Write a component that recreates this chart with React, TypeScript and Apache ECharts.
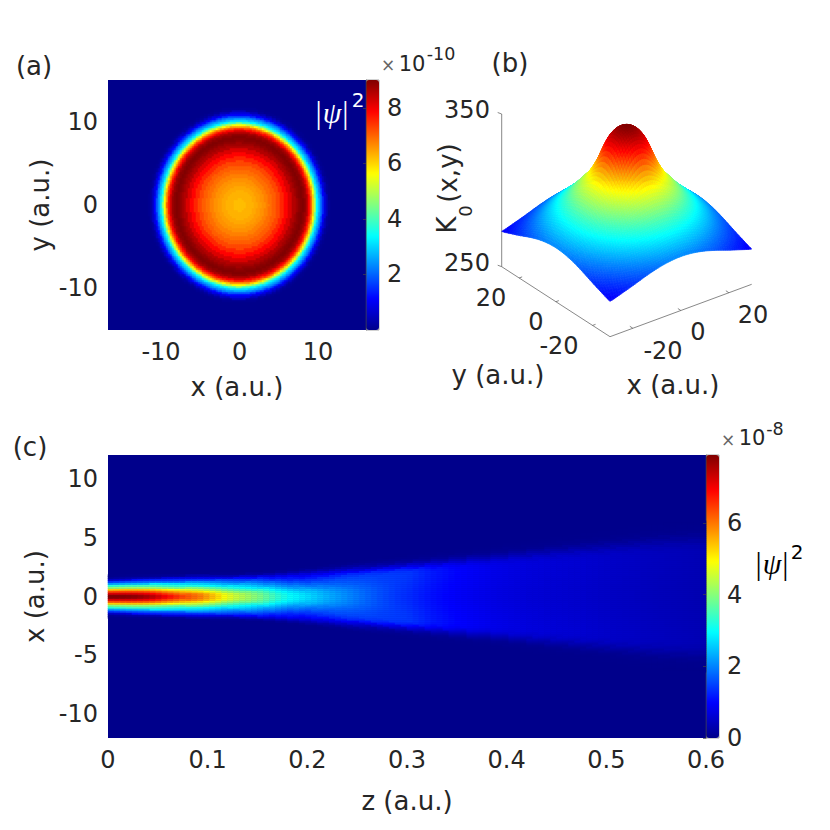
import React, { useEffect, useRef } from "react";
import * as echarts from "echarts";

// ---- tick labels
const panelAXTicks = [-10, 0, 10];
const panelAYTicks = [-10, 0, 10];
const panelABarTicks = [2, 4, 6, 8];
const panelCXTicks = [0, 0.1, 0.2, 0.3, 0.4, 0.5, 0.6];
const panelCYTicks = [-10, -5, 0, 5, 10];
const panelCBarTicks = [0, 2, 4, 6];
const surfaceXTicks = [-20, 0, 20];
const surfaceYTicks = [-20, 0, 20];
const surfaceZTicks = [250, 350];

// ---- panel (a): |psi|^2 (x 1e-10) read along a radius
const ringRadius = [0, 0.5, 1, 1.5, 2, 2.5, 3, 3.5, 4, 4.5, 5, 5.5, 6, 6.5, 7, 7.25, 7.5, 7.75, 8, 8.25, 8.5, 8.6, 8.75, 8.9, 9, 9.1, 9.2, 9.3, 9.4, 9.5, 9.6, 9.7, 9.8, 9.9, 10, 10.1, 10.2, 10.3, 10.4, 10.5, 10.6, 10.75, 10.9, 11.1, 11.3, 11.5];
const ringValue = [6.2, 6.2, 6.3, 6.3, 6.4, 6.5, 6.6, 6.75, 6.9, 7.05, 7.25, 7.55, 7.85, 8.2, 8.55, 8.7, 8.85, 8.95, 9, 8.9, 8.75, 8.6, 8.25, 7.9, 7.6, 7.3, 6.95, 6.5, 6.05, 5.6, 5.05, 4.5, 3.9, 3.35, 3.1, 2.85, 2.6, 2.4, 2.2, 1.85, 1.5, 1.1, 0.8, 0.45, 0.15, 0.05];

// ---- panel (b): K0 read along a radius, one value each 0.5 a.u.
const surfaceK = [348, 347.95, 347.8, 347.45, 347, 346.55, 346, 345.35, 344.6, 343.7, 342.6, 341.35, 340, 338.4, 336.6, 334.65, 332.6, 330.4, 328.2, 326, 324, 322.15, 320.4, 318.75, 317.2, 315.75, 314.4, 313.15, 312, 311, 310, 309, 308, 307, 306, 305, 304, 303, 302, 301, 300, 299.2, 298.4, 297.6, 296.8, 296, 295.2, 294.4, 293.6, 292.8, 292, 291.25, 290.5, 289.75, 289, 288.25, 287.5, 286.75, 286, 285.3, 284.6, 283.95, 283.3, 282.65, 282, 281.4, 280.8, 280.2, 279.6, 279.05, 278.5, 278, 277.5, 277.05, 276.6, 276.2, 275.8, 275.4, 275, 274.6, 274.2, 273.85, 273.5, 273.25, 273];

// ---- panel (c): on-axis |psi|^2 (x 1e-8) and beam half width, one value per z column
const beamPeak = [
  7.9, 7.9, 7.88, 7.85, 7.8, 7.72, 7.6, 7.45, 7.25, 7.0,
  6.8, 6.6, 6.4, 6.25, 6.1, 5.95, 5.7, 5.45, 5.2, 4.9,
  4.7, 4.5, 4.35, 4.2, 4.05, 3.9, 3.7, 3.5, 3.3, 3.15,
  3.0, 2.9, 2.8, 2.7, 2.6, 2.5, 2.4, 2.32, 2.24, 2.16,
  2.08, 2.0, 1.92, 1.84, 1.76, 1.68, 1.62, 1.56, 1.5, 1.45,
  1.4, 1.34, 1.28, 1.22, 1.16, 1.12, 1.08, 1.04, 1.0, 0.97,
  0.94, 0.91, 0.88, 0.85, 0.82, 0.8, 0.78, 0.76, 0.74, 0.72,
  0.7, 0.69, 0.68, 0.66, 0.65, 0.64, 0.63, 0.62, 0.61, 0.6,
  0.58, 0.57, 0.55, 0.54, 0.52, 0.51, 0.5, 0.49, 0.48, 0.46,
  0.45, 0.44, 0.43, 0.42, 0.41, 0.4, 0.39, 0.38, 0.37, 0.36,
];
const beamHalfWidth = [
  1.4, 1.4, 1.4, 1.4, 1.41, 1.41, 1.41, 1.42, 1.42, 1.43,
  1.43, 1.44, 1.44, 1.45, 1.45, 1.46, 1.46, 1.47, 1.48, 1.48,
  1.49, 1.5, 1.52, 1.54, 1.56, 1.58, 1.61, 1.64, 1.67, 1.7,
  1.74, 1.78, 1.82, 1.87, 1.92, 1.97, 2.02, 2.07, 2.13, 2.18,
  2.23, 2.28, 2.33, 2.38, 2.43, 2.48, 2.53, 2.58, 2.63, 2.68,
  2.73, 2.78, 2.83, 2.88, 2.93, 2.98, 3.03, 3.08, 3.13, 3.18,
  3.23, 3.28, 3.33, 3.38, 3.43, 3.48, 3.53, 3.58, 3.63, 3.68,
  3.73, 3.78, 3.83, 3.88, 3.93, 3.98, 4.03, 4.08, 4.13, 4.18,
  4.23, 4.28, 4.33, 4.38, 4.43, 4.48, 4.53, 4.58, 4.63, 4.68,
  4.73, 4.77, 4.81, 4.85, 4.88, 4.91, 4.94, 4.96, 4.98, 5.0,
];
// cross-section relative to the on-axis value, one value each 0.05 half widths
const crossNear = [1, 0.995, 0.98, 0.95, 0.91, 0.86, 0.8, 0.74, 0.67, 0.61, 0.55, 0.5, 0.46, 0.41, 0.37, 0.32, 0.27, 0.22, 0.17, 0.13, 0.1, 0.06, 0.03, 0.01, 0, 0, 0, 0];
const crossMid = [1, 1, 0.99, 0.98, 0.96, 0.93, 0.9, 0.85, 0.8, 0.75, 0.7, 0.66, 0.62, 0.58, 0.54, 0.5, 0.46, 0.42, 0.38, 0.34, 0.3, 0.24, 0.18, 0.12, 0.07, 0.03, 0.01, 0];
const crossFar = [0.93, 0.93, 0.93, 0.94, 0.94, 0.95, 0.96, 0.96, 0.97, 0.98, 0.98, 0.99, 0.99, 1, 1, 0.99, 0.96, 0.88, 0.75, 0.55, 0.38, 0.22, 0.1, 0.05, 0.02, 0.01, 0, 0];

const JET = ["#00008b", "#0000ff", "#0080ff", "#00ffff", "#80ff80", "#ffff00", "#ff8000", "#ff0000", "#800000"];
const INK = "#262626";
const FONT = "DejaVu Sans";
const TICK = 24;
const NAME = 26;

// ---- panel (a) frame
const A = { left: 108, top: 80, w: 258, h: 250, xMin: -16.75, xMax: 16.1, yMin: -15, yMax: 15, cols: 129, rows: 125, barMax: 9, ringAspect: 1.01 };
// ---- panel (c) frame
const C = { left: 108, top: 455, w: 598, h: 283, zMin: 0, zMax: 0.6, yMin: -12, yMax: 12, cols: 100, rows: 142, barMax: 7.9 };
// ---- panel (b) oblique projection, from its three drawn axes
const P = {
  lim: 29.5,
  cells: 80,
  left: [501.7, 266.7],
  front: [610, 336.7],
  right: [751.7, 284.3],
  zTop: 114,
  kMin: 250,
  kMax: 350,
};
const cellStep = (2 * P.lim) / P.cells;

function nearestRing(r: number) {
  let best = 0;
  for (let i = 1; i < ringRadius.length; i++) {
    if (Math.abs(ringRadius[i] - r) < Math.abs(ringRadius[best] - r)) best = i;
  }
  return ringValue[best];
}

function floorPoint(x: number, y: number) {
  const u = (x + P.lim) / (2 * P.lim);
  const v = (y + P.lim) / (2 * P.lim);
  return [
    P.front[0] + u * (P.right[0] - P.front[0]) + v * (P.left[0] - P.front[0]),
    P.front[1] + u * (P.right[1] - P.front[1]) + v * (P.left[1] - P.front[1]),
  ];
}
function kAt(x: number, y: number) {
  const r = Math.sqrt(x * x + y * y) * 2;
  const i = Math.min(surfaceK.length - 2, Math.floor(r));
  const f = Math.min(1, r - i);
  return surfaceK[i] * (1 - f) + surfaceK[i + 1] * f;
}
const zScale = (P.left[1] - P.zTop) / (P.kMax - P.kMin);
function project(x: number, y: number, k: number) {
  const f = floorPoint(x, y);
  return [f[0], f[1] - (k - P.kMin) * zScale];
}

function buildA() {
  const out: number[][] = [];
  for (let i = 0; i < A.cols; i++) {
    const x = A.xMin + ((i + 0.5) / A.cols) * (A.xMax - A.xMin);
    for (let j = 0; j < A.rows; j++) {
      const y = (A.yMin + ((j + 0.5) / A.rows) * (A.yMax - A.yMin)) / A.ringAspect;
      const r = Math.sqrt(x * x + y * y);
      if (r < 11.6) out.push([i, j, nearestRing(r)]);
    }
  }
  return out;
}
const clamp01 = (v: number) => Math.max(0, Math.min(1, v));
function buildC() {
  const out: number[][] = [];
  for (let i = 0; i < C.cols; i++) {
    const z = ((i + 0.5) / C.cols) * C.zMax;
    const w1 = clamp01(z / 0.14);
    const w2 = clamp01((z - 0.2) / 0.1);
    for (let j = 0; j < C.rows; j++) {
      const x = C.yMin + ((j + 0.5) / C.rows) * (C.yMax - C.yMin);
      const idx = Math.round(Math.abs(x) / beamHalfWidth[i] / 0.05);
      if (idx >= crossNear.length) continue;
      const s = crossNear[idx] * (1 - w1) + crossMid[idx] * w1;
      const rel = s * (1 - w2) + crossFar[idx] * w2;
      if (rel > 0) out.push([i, j, beamPeak[i] * rel]);
    }
  }
  return out;
}
function buildSurface() {
  const out: number[][] = [];
  for (let a = 0; a < P.cells; a++) {
    for (let b = 0; b < P.cells; b++) {
      const x = -P.lim + a * cellStep;
      const y = -P.lim + b * cellStep;
      out.push([x, y, kAt(x + cellStep / 2, y + cellStep / 2)]);
    }
  }
  out.sort((a, b) => floorPoint(a[0], a[1])[1] - floorPoint(b[0], b[1])[1]);
  return out;
}

const range = (n: number) => Array.from({ length: n }, (_, i) => i);

function t(text: string, x: number, y: number, size: number, extra: any = {}, el: any = {}) {
  return {
    type: "text",
    x,
    y,
    silent: true,
    ...el,
    style: { text, fontFamily: FONT, fontSize: size, fill: INK, align: "center", verticalAlign: "middle", ...extra },
  };
}
const line = (a: number[], b: number[], w = 0.7) => ({
  type: "line",
  silent: true,
  shape: { x1: a[0], y1: a[1], x2: b[0], y2: b[1] },
  style: { stroke: "#555", lineWidth: w },
});

function surfaceDecor() {
  const g: any[] = [];
  g.push(line(P.left, P.front), line(P.front, P.right), line(P.left, [P.left[0], P.zTop]));
  g.push(line([P.left[0], P.zTop], [P.left[0] - 4, P.zTop - 1.5]), line(P.left, [P.left[0] - 4, P.left[1] - 1.5]));
  surfaceXTicks.forEach((v) => {
    const p = floorPoint(v, -P.lim);
    g.push(line(p, [p[0] - 3, p[1] - 2]));
  });
  surfaceYTicks.forEach((v) => {
    const p = floorPoint(-P.lim, v);
    g.push(line(p, [p[0] + 3, p[1] - 1.1]));
  });
  const xl = [[663, 351], [698, 332], [753, 315]];
  surfaceXTicks.forEach((v, i) => g.push(t(String(v), xl[i][0], xl[i][1], TICK)));
  const yl = [[559, 346], [536, 322], [491, 298]];
  surfaceYTicks.forEach((v, i) => g.push(t(String(v), yl[i][0], yl[i][1], TICK)));
  const zl = [[467, 263], [467, 110]];
  surfaceZTicks.forEach((v, i) => g.push(t(String(v), zl[i][0], zl[i][1], TICK)));
  g.push(t("y (a.u.)", 498, 375, NAME), t("x (a.u.)", 673, 385, NAME));
  return g;
}

function psiLabel(x: number, y: number, color: string) {
  const serif = "Liberation Serif";
  return t("{b||}{p|ψ}{b||}", x, y, 29, {
    fill: color,
    rich: {
      b: { fontFamily: serif, fontSize: 31, fill: color },
      p: { fontFamily: serif, fontSize: 30, fontStyle: "italic", fill: color, padding: [0, 1, 0, 1] },
    },
  });
}

function overlayText() {
  const rot = Math.PI / 2;
  return [
    t("(a)", 34, 66, NAME),
    t("(b)", 510, 63, NAME),
    t("(c)", 30, 447, NAME),
    t("K", 447, 225, NAME, {}, { rotation: rot }),
    t("0", 465, 211, 18, {}, { rotation: rot }),
    t("(x,y)", 448, 173, NAME, {}, { rotation: rot }),
    t("×", 388, 65, 17, { fill: "#666" }),
    t("10", 412, 64, 21),
    t("-10", 441, 54, 17.5),
    t("×", 728, 440, 17, { fill: "#666" }),
    t("10", 752, 438, 21),
    t("-8", 775, 429, 17.5),
    psiLabel(332, 112, "#fff"),
    t("2", 358, 100, 20, { fill: "#fff" }),
    psiLabel(772, 563, "#000"),
    t("2", 797, 552, 20, { fill: "#000" }),
  ];
}

function valueAxis(gridIndex: number, position: string, min: number, max: number, ticks: number[], name: string, nameGap: number, margin: number) {
  return {
    type: "value",
    gridIndex,
    position,
    min,
    max,
    splitLine: { show: false },
    axisLine: { show: false },
    axisTick: { show: false },
    axisLabel: { color: INK, fontSize: TICK, fontFamily: FONT, margin, customValues: ticks, showMinLabel: true, showMaxLabel: true },
    name,
    nameLocation: "middle",
    nameGap,
    nameTextStyle: { color: INK, fontSize: NAME, fontFamily: FONT },
  };
}
function barAxis(gridIndex: number, max: number, ticks: number[]) {
  return {
    type: "value",
    gridIndex,
    position: "right",
    min: 0,
    max,
    z: 5,
    splitLine: { show: false },
    axisLine: { show: true, lineStyle: { color: "#444", width: 0.5 } },
    axisTick: { show: true, inside: true, length: 3, lineStyle: { color: "#444", width: 0.7 }, customValues: ticks },
    axisLabel: { color: INK, fontSize: TICK, fontFamily: FONT, margin: 8, customValues: ticks },
  };
}
const hiddenCat = (gridIndex: number, n: number, position: string) => ({
  type: "category",
  gridIndex,
  position,
  show: false,
  data: range(n),
  axisLine: { show: false },
  axisTick: { show: false },
  axisLabel: { show: false },
});
const hiddenVal = (gridIndex: number, position: string, inverse = false) => ({
  type: "value",
  gridIndex,
  position,
  show: false,
  min: 0,
  max: 830,
  inverse,
  splitLine: { show: false },
});

export default function App() {
  const ref = useRef<HTMLDivElement>(null);
  useEffect(() => {
    if (!ref.current) return;
    const chart = echarts.init(ref.current, undefined, { renderer: "svg" });
    chart.setOption({
      animation: false,
      backgroundColor: "#fff",
      textStyle: { fontFamily: FONT },
      grid: [
        { left: A.left, top: A.top, width: A.w, height: A.h, show: true, backgroundColor: JET[0], borderWidth: 0 },
        { left: C.left, top: C.top, width: C.w, height: C.h, show: true, backgroundColor: JET[0], borderWidth: 0 },
        { left: A.left + A.w, top: A.top, width: 13, height: A.h, show: true, borderColor: "#444", borderWidth: 0.5 },
        { left: C.left + C.w, top: C.top, width: 13, height: C.h, show: true, borderColor: "#444", borderWidth: 0.5 },
        { left: 0, top: 0, width: 830, height: 830 },
      ],
      xAxis: [
        hiddenCat(0, A.cols, "bottom"),
        valueAxis(0, "bottom", A.xMin, A.xMax, panelAXTicks, "x (a.u.)", 44, 10),
        hiddenCat(1, C.cols, "bottom"),
        valueAxis(1, "bottom", C.zMin, C.zMax, panelCXTicks, "z (a.u.)", 50, 10),
        { ...hiddenVal(2, "bottom"), max: 1 },
        { ...hiddenVal(3, "bottom"), max: 1 },
        hiddenVal(4, "bottom"),
      ],
      yAxis: [
        hiddenCat(0, A.rows, "left"),
        valueAxis(0, "left", A.yMin, A.yMax, panelAYTicks, "y (a.u.)", 55, 10),
        hiddenCat(1, C.rows, "left"),
        valueAxis(1, "left", C.yMin, C.yMax, panelCYTicks, "x (a.u.)", 55, 10),
        barAxis(2, A.barMax, panelABarTicks),
        barAxis(3, C.barMax, panelCBarTicks),
        hiddenVal(4, "left", true),
      ],
      visualMap: [
        { type: "continuous", seriesIndex: 0, min: 0, max: A.barMax, left: A.left + A.w, top: A.top, itemWidth: 13, itemHeight: A.h, padding: 0, showLabel: false, calculable: false, realtime: false, hoverLink: false, inRange: { color: JET }, z: 1 },
        { type: "continuous", seriesIndex: 1, min: 0, max: C.barMax, left: C.left + C.w, top: C.top, itemWidth: 13, itemHeight: C.h, padding: 0, showLabel: false, calculable: false, realtime: false, hoverLink: false, inRange: { color: JET }, z: 1 },
        { type: "continuous", seriesIndex: 2, min: 263.5, max: 348, show: false, dimension: 2, inRange: { color: JET } },
      ],
      series: [
        { type: "heatmap", xAxisIndex: 0, yAxisIndex: 0, data: buildA(), progressive: 0, silent: true, itemStyle: { borderWidth: 0 } },
        { type: "heatmap", xAxisIndex: 2, yAxisIndex: 2, data: buildC(), progressive: 0, silent: true, itemStyle: { borderWidth: 0 } },
        {
          type: "custom",
          xAxisIndex: 6,
          yAxisIndex: 6,
          coordinateSystem: "cartesian2d",
          data: buildSurface(),
          progressive: 0,
          silent: true,
          clip: false,
          encode: { x: 0, y: 1 },
          renderItem: (_p: any, api: any) => {
            const x = api.value(0);
            const y = api.value(1);
            const corners = [
              [x, y],
              [x + cellStep, y],
              [x + cellStep, y + cellStep],
              [x, y + cellStep],
            ];
            const color = api.visual("color");
            return {
              type: "polygon",
              shape: { points: corners.map(([a, b]) => api.coord(project(a, b, kAt(a, b)))) },
              style: { fill: color, stroke: color, lineWidth: 0.7 },
            };
          },
        },
      ],
      graphic: { elements: [...surfaceDecor(), ...overlayText()] },
    });
    return () => chart.dispose();
  }, []);
  return <div ref={ref} style={{ position: "fixed", left: 0, top: 0, width: 830, height: 830 }} />;
}
